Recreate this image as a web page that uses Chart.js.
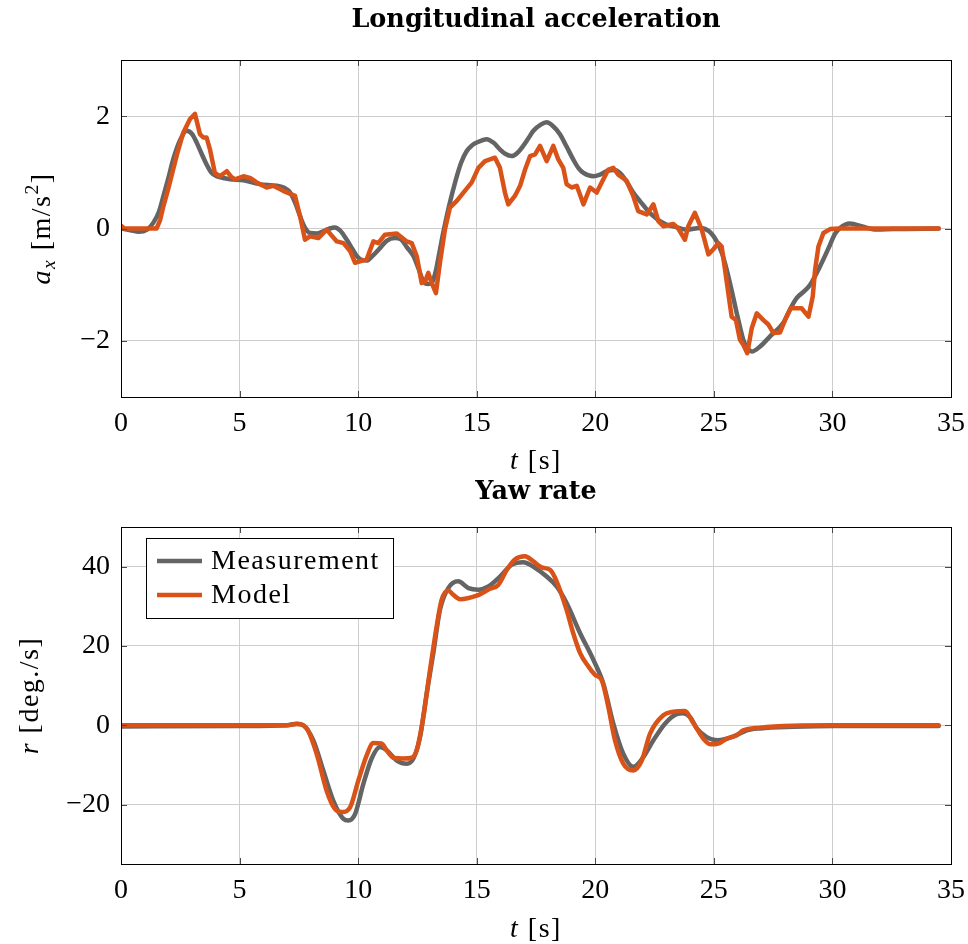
<!DOCTYPE html>
<html>
<head>
<meta charset="utf-8">
<script src="https://cdn.jsdelivr.net/npm/chart.js@4.4.1/dist/chart.umd.min.js"></script>
<style>
  html, body { margin: 0; padding: 0; background: #ffffff; }
  #wrap { position: relative; width: 968px; height: 944px; }
  canvas { position: absolute; left: 0; }
</style>
</head>
<body>
<div id="wrap">
  <canvas id="accChart" width="968" height="480" style="top:0px"></canvas>
  <canvas id="yawChart" width="968" height="474" style="top:470px"></canvas>
</div>
<script>
// ---------- data: longitudinal acceleration [m/s^2] ----------
const accMeasT = [0, 0.4, 0.75, 1.1, 1.36, 1.6, 1.79, 2.0, 2.2, 2.5, 2.77, 3.0, 3.19, 3.4, 3.61, 3.8, 4.03, 4.3, 4.6, 5.16,
  5.86, 6.57, 6.9, 7.13, 7.35, 7.55, 7.75, 7.97, 8.25, 8.53, 8.8, 9.02, 9.25, 9.52, 9.75, 9.94, 10.15, 10.36, 10.6, 10.92,
  11.2, 11.55, 11.8, 12.05, 12.33, 12.55, 12.75, 12.95, 13.1, 13.25, 13.45, 13.6, 13.8, 14.0, 14.16, 14.35, 14.58, 14.8, 15.0, 15.42,
  15.7, 15.98, 16.2, 16.48, 16.7, 16.96, 17.2, 17.39, 17.7, 17.95, 18.2, 18.51, 18.8, 19.07, 19.3, 19.5, 19.92, 20.2, 20.48, 20.8,
  21.04, 21.3, 21.6, 21.9, 22.17, 22.45, 22.73, 23.0, 23.29, 23.86, 24.42, 24.8, 25.12, 25.35, 25.54, 25.75, 25.96, 26.1, 26.24, 26.4,
  26.6, 26.95, 27.37, 27.93, 28.2, 28.49, 28.8, 29.06, 29.48, 29.9, 30.1, 30.32, 30.74, 31.3, 31.87, 32.57, 34.48];
const accMeas = [0, -0.03, -0.06, -0.02, 0.1, 0.3, 0.58, 0.9, 1.23, 1.58, 1.74, 1.68, 1.53, 1.33, 1.14, 1.0, 0.93, 0.9, 0.875, 0.86,
  0.79, 0.76, 0.72, 0.64, 0.45, 0.22, 0.02, -0.08, -0.09, -0.05, 0.0, 0.02, -0.04, -0.2, -0.36, -0.49, -0.56, -0.57, -0.49, -0.35,
  -0.22, -0.17, -0.19, -0.33, -0.49, -0.72, -0.94, -0.99, -0.97, -0.8, -0.375, -0.05, 0.34, 0.68, 0.93, 1.18, 1.38, 1.48, 1.53, 1.59,
  1.53, 1.41, 1.33, 1.29, 1.34, 1.47, 1.62, 1.74, 1.85, 1.89, 1.83, 1.68, 1.45, 1.23, 1.07, 0.99, 0.93, 0.96, 1.02, 1.04,
  0.99, 0.85, 0.64, 0.48, 0.34, 0.22, 0.13, 0.07, 0.04, -0.02, 0.01, -0.05, -0.23, -0.45, -0.73, -1.1, -1.5, -1.75, -1.98, -2.12,
  -2.19, -2.1, -1.92, -1.68, -1.45, -1.24, -1.12, -1.0, -0.67, -0.29, -0.1, 0.01, 0.09, 0.03, -0.02, -0.01, 0];

const accModelT = [0, 0.15, 1.36, 1.5, 1.65, 1.79, 2.0, 2.2, 2.4, 2.63, 2.91, 3.12, 3.33, 3.47, 3.61, 3.75, 3.96, 4.17, 4.46, 4.65,
  4.81, 5.16, 5.44, 5.72, 6.14, 6.42, 6.84, 7.34, 7.55, 7.76, 7.97, 8.32, 8.67, 9.1, 9.38, 9.66, 9.87, 10.36, 10.64, 10.85,
  11.13, 11.63, 12.05, 12.26, 12.47, 12.68, 12.82, 12.96, 13.1, 13.28, 13.45, 13.66, 13.87, 14.16, 14.44, 14.79, 15.07, 15.35, 15.77, 15.98,
  16.19, 16.33, 16.61, 16.83, 17.04, 17.25, 17.46, 17.67, 17.95, 18.23, 18.44, 18.65, 18.79, 19.0, 19.22, 19.5, 19.78, 20.06, 20.27, 20.55,
  20.76, 20.97, 21.32, 21.6, 21.81, 22.17, 22.45, 22.66, 22.87, 23.29, 23.5, 23.78, 23.92, 24.2, 24.49, 24.77, 24.98, 25.19, 25.33, 25.47,
  25.61, 25.75, 25.93, 26.1, 26.24, 26.41, 26.6, 26.81, 27.09, 27.3, 27.51, 27.79, 28.0, 28.24, 28.7, 28.99, 29.17, 29.27, 29.41, 29.62,
  29.9, 30.32, 34.48];
const accModel = [0.05, 0, 0, 0.0, 0.15, 0.4, 0.72, 1.05, 1.38, 1.71, 1.95, 2.04, 1.68, 1.62, 1.62, 1.41, 0.99, 0.93, 1.02, 0.92,
  0.875, 0.93, 0.9, 0.82, 0.73, 0.76, 0.67, 0.58, 0.22, -0.2, -0.14, -0.17, -0.02, -0.23, -0.26, -0.4, -0.61, -0.55, -0.23, -0.26,
  -0.11, -0.09, -0.23, -0.26, -0.49, -0.97, -0.95, -0.79, -0.97, -1.15, -0.61, -0.02, 0.37, 0.49, 0.64, 0.82, 1.08, 1.2, 1.26, 1.08,
  0.64, 0.43, 0.58, 0.76, 1.05, 1.29, 1.32, 1.47, 1.2, 1.47, 1.23, 1.08, 0.79, 0.73, 0.76, 0.43, 0.73, 0.64, 0.82, 1.05,
  1.08, 0.96, 0.85, 0.58, 0.31, 0.25, 0.43, 0.13, 0.04, 0.08, 0.0, -0.2, 0.04, 0.28, -0.02, -0.46, -0.37, -0.26, -0.32, -0.73,
  -1.15, -1.57, -1.63, -1.98, -2.07, -2.22, -1.77, -1.51, -1.63, -1.71, -1.86, -1.85, -1.63, -1.42, -1.42, -1.57, -1.21, -0.73, -0.32, -0.08,
  -0.01, 0, 0];

// ---------- data: yaw rate [deg./s] ----------
const yawMeasT = [0, 5, 7.0, 7.41, 7.69, 8.11, 8.53, 8.95, 9.38, 9.59, 9.87, 10.22, 10.57, 10.92, 11.2, 11.63, 12.05, 12.33, 12.61, 12.89,
  13.17, 13.45, 13.8, 14.22, 14.65, 15.07, 15.49, 15.98, 16.48, 16.96, 17.46, 17.95, 18.37, 18.79, 19.36, 19.92, 20.34, 20.76, 21.18, 21.6,
  22.03, 22.45, 22.94, 23.43, 23.7, 24.0, 24.28, 24.7, 25.12, 25.54, 25.96, 26.39, 26.95, 28.35, 30.04, 34.48];
const yawMeas = [-0.3, -0.2, 0.0, 0.4, 0.0, -3.8, -11.4, -19, -23.6, -24, -22.4, -14.8, -8.4, -5.5, -6.3, -8.9, -9.7, -8.4, -3, 8,
  18.2, 29.1, 34.6, 36.3, 34.6, 34.2, 35, 37.5, 40.5, 41.1, 39.7, 37.5, 35, 30.8, 23.2, 16.5, 10.5, 0.4, -7.2, -10.5,
  -8, -3.8, 0.4, 2.8, 3.0, 2.0, -0.8, -3.0, -3.8, -3.4, -2.5, -1.3, -0.8, -0.4, -0.2, -0.2];

const yawModelT = [0, 7.0, 7.41, 7.83, 8.25, 8.67, 9.02, 9.31, 9.66, 10.01, 10.36, 10.64, 10.99, 11.2, 11.48, 11.9, 12.26, 12.47, 12.75, 13.03,
  13.31, 13.52, 13.8, 14.01, 14.3, 15.0, 15.56, 15.91, 16.27, 16.61, 17.04, 17.39, 17.74, 18.09, 18.37, 18.79, 19.07, 19.36, 19.71, 19.99,
  20.27, 20.55, 20.83, 21.18, 21.6, 21.96, 22.31, 22.87, 23.29, 23.78, 24.13, 24.56, 24.84, 25.19, 25.54, 25.96, 26.24, 26.95, 28.35, 30,
  34.48];
const yawModel = [0, 0, 0.3, -0.8, -7.2, -16.5, -21.1, -21.9, -20.7, -13.9, -7.6, -4.5, -4.6, -6.3, -8.2, -8.4, -8.2, -6.3, 2.1, 13.9,
  24.9, 31.6, 34, 32.9, 31.8, 32.7, 34.4, 35.4, 39.2, 41.8, 42.6, 41.3, 39.8, 39.2, 36.3, 29.1, 23.2, 18.2, 14.8, 12.7,
  11.4, 4.6, -3.8, -9.7, -11.4, -8.9, -2.1, 2.5, 3.4, 3.6, 0.6, -3.4, -4.8, -4.6, -3.4, -2.5, -1.3, -0.6, -0.1, 0,
  0];

// ---------- axes ----------
const timeRange = [0, 35];
const timeStep = 5;
const accRange = [-3, 3];
const accTicks = [-2, 0, 2];
const yawRange = [-35, 50];
const yawTicks = [-20, 0, 20, 40];

const seriesNames = ['Measurement', 'Model'];
const seriesColors = ['#646464', '#d95319'];

const FONT = "'Liberation Serif', 'DejaVu Serif', serif";
const TITLE_FONT = "bold 25.5px 'DejaVu Serif', serif";
const FS = 28;
const GRID = '#cdcdcd';

const toPoints = (ts, vs) => ts.map((t, i) => ({ x: t, y: vs[i] }));

// draws a run of text pieces (italic / sub / superscript) centred on (cx, cy)
function drawRichText(ctx, parts, cx, cy, size, rotate) {
  ctx.save();
  ctx.translate(cx, cy);
  if (rotate) ctx.rotate(-Math.PI / 2);
  ctx.letterSpacing = '1.5px';
  const fontFor = p => {
    const s = (p.sub || p.sup) ? size * 0.7 : size;
    return (p.it ? 'italic ' : '') + s + 'px ' + FONT;
  };
  let total = 0;
  parts.forEach(p => { ctx.font = fontFor(p); total += ctx.measureText(p.t).width; });
  let x = -total / 2;
  ctx.fillStyle = '#000';
  ctx.textBaseline = 'alphabetic';
  ctx.textAlign = 'left';
  parts.forEach(p => {
    ctx.font = fontFor(p);
    let dy = size * 0.35;
    if (p.sub) dy += size * 0.2;
    if (p.sup) dy -= size * 0.42;
    ctx.fillText(p.t, x, dy);
    x += ctx.measureText(p.t).width;
  });
  ctx.restore();
}

// plot frame, inward tick marks, plot title, axis titles and boxed legend
const framePlugin = {
  id: 'frameDecor',
  afterDatasetsDraw(chart, args, opts) {
    const { ctx, chartArea: a, scales } = chart;
    ctx.save();
    ctx.strokeStyle = '#4a4a4a';
    ctx.lineWidth = 1;
    const len = 6;
    ctx.beginPath();
    scales.x.ticks.forEach(t => {
      const px = Math.round(scales.x.getPixelForValue(t.value)) + 0.5;
      ctx.moveTo(px, a.bottom); ctx.lineTo(px, a.bottom - len);
      ctx.moveTo(px, a.top); ctx.lineTo(px, a.top + len);
    });
    scales.y.ticks.forEach(t => {
      const py = Math.round(scales.y.getPixelForValue(t.value)) + 0.5;
      ctx.moveTo(a.left, py); ctx.lineTo(a.left + len, py);
      ctx.moveTo(a.right, py); ctx.lineTo(a.right - len, py);
    });
    ctx.stroke();
    ctx.strokeStyle = '#000';
    ctx.strokeRect(Math.round(a.left) + 0.5, Math.round(a.top) + 0.5,
      Math.round(a.right - a.left), Math.round(a.bottom - a.top));

    // plot title, centred over the plot area
    ctx.fillStyle = '#000';
    ctx.font = TITLE_FONT;
    ctx.textAlign = 'center';
    ctx.textBaseline = 'middle';
    ctx.fillText(opts.title, (a.left + a.right) / 2, opts.titleY);
    ctx.restore();

    drawRichText(ctx, opts.xTitle, (a.left + a.right) / 2, opts.xTitleY, FS, false);
    drawRichText(ctx, opts.yTitle, opts.yTitleX, (a.top + a.bottom) / 2, FS, true);

    if (opts.legend) {
      const L = opts.legend;
      ctx.save();
      ctx.fillStyle = '#fff';
      ctx.fillRect(L.x, L.y, L.w, L.h);
      ctx.strokeStyle = '#000';
      ctx.lineWidth = 1;
      ctx.strokeRect(L.x + 0.5, L.y + 0.5, L.w, L.h);
      chart.data.datasets.forEach((ds, i) => {
        const y = L.y + L.row0 + i * L.rowGap;
        ctx.strokeStyle = ds.borderColor;
        ctx.lineWidth = ds.borderWidth;
        ctx.beginPath();
        ctx.moveTo(L.x + 11, y); ctx.lineTo(L.x + 56, y);
        ctx.stroke();
        ctx.fillStyle = '#000';
        ctx.font = FS + 'px ' + FONT;
        ctx.letterSpacing = '1.5px';
        ctx.textBaseline = 'middle';
        ctx.fillText(ds.label, L.x + 65, y + 1);
      });
      ctx.restore();
    }
  }
};

function makeConfig(o) {
  return {
    type: 'line',
    data: {
      datasets: [
        { label: seriesNames[0], data: toPoints(o.measT, o.meas), borderColor: seriesColors[0],
          borderWidth: 4.5, pointRadius: 0, cubicInterpolationMode: 'monotone', order: 1 },
        { label: seriesNames[1], data: toPoints(o.modelT, o.model), borderColor: seriesColors[1],
          borderWidth: 4.5, pointRadius: 0, tension: o.modelTension, order: 0,
          cubicInterpolationMode: o.modelTension > 0 ? 'monotone' : 'default' }
      ]
    },
    options: {
      responsive: false,
      animation: false,
      devicePixelRatio: 1,
      layout: { padding: { left: 0, right: 17, top: o.plotTop, bottom: 0 } },
      elements: { line: { borderJoinStyle: 'round', borderCapStyle: 'round' } },
      plugins: {
        legend: { display: false },
        tooltip: { enabled: false },
        title: { display: false },
        frameDecor: { title: o.title, titleY: o.titleY, xTitle: o.xTitle, xTitleY: o.xTitleY,
                      yTitle: o.yTitle, yTitleX: o.yTitleX, legend: o.legend }
      },
      scales: {
        x: {
          type: 'linear', min: timeRange[0], max: timeRange[1],
          afterFit: s => { s.height = o.xAxisHeight; s.paddingLeft = 0; s.paddingRight = 0; },
          ticks: { stepSize: timeStep, color: '#000', padding: 10, maxRotation: 0,
                   font: { family: FONT, size: FS } },
          grid: { color: GRID, lineWidth: 1, drawTicks: false },
          border: { display: false }
        },
        y: {
          type: 'linear', min: o.yRange[0], max: o.yRange[1],
          afterFit: s => { s.width = 121; s.paddingTop = 0; s.paddingBottom = 0; },
          afterBuildTicks: s => { s.ticks = o.yTicks.map(v => ({ value: v })); },
          ticks: { color: '#000', padding: 11, font: { family: FONT, size: FS },
                   callback: v => String(v).replace('-', '\u2212') },
          grid: { color: GRID, lineWidth: 1, drawTicks: false },
          border: { display: false }
        }
      }
    },
    plugins: [framePlugin]
  };
}

new Chart(document.getElementById('accChart'), makeConfig({
  title: 'Longitudinal acceleration', titleY: 20.5, plotTop: 60,
  measT: accMeasT, meas: accMeas, modelT: accModelT, model: accModel, modelTension: 0,
  yRange: accRange, yTicks: accTicks, xAxisHeight: 83,
  xTitle: [{ t: 't', it: true }, { t: ' [s]' }], xTitleY: 459,
  yTitle: [{ t: 'a', it: true }, { t: 'x', it: true, sub: true }, { t: ' [m/s' }, { t: '2', sup: true }, { t: ']' }],
  yTitleX: 40
}));

new Chart(document.getElementById('yawChart'), makeConfig({
  title: 'Yaw rate', titleY: 22.5, plotTop: 57,
  measT: yawMeasT, meas: yawMeas, modelT: yawModelT, model: yawModel, modelTension: 0.4,
  yRange: yawRange, yTicks: yawTicks, xAxisHeight: 80,
  xTitle: [{ t: 't', it: true }, { t: ' [s]' }], xTitleY: 457,
  yTitle: [{ t: 'r', it: true }, { t: ' [deg./s]' }],
  yTitleX: 28,
  legend: { x: 146, y: 68, w: 247, h: 80, row0: 23, rowGap: 34 }
}));
</script>
</body>
</html>
